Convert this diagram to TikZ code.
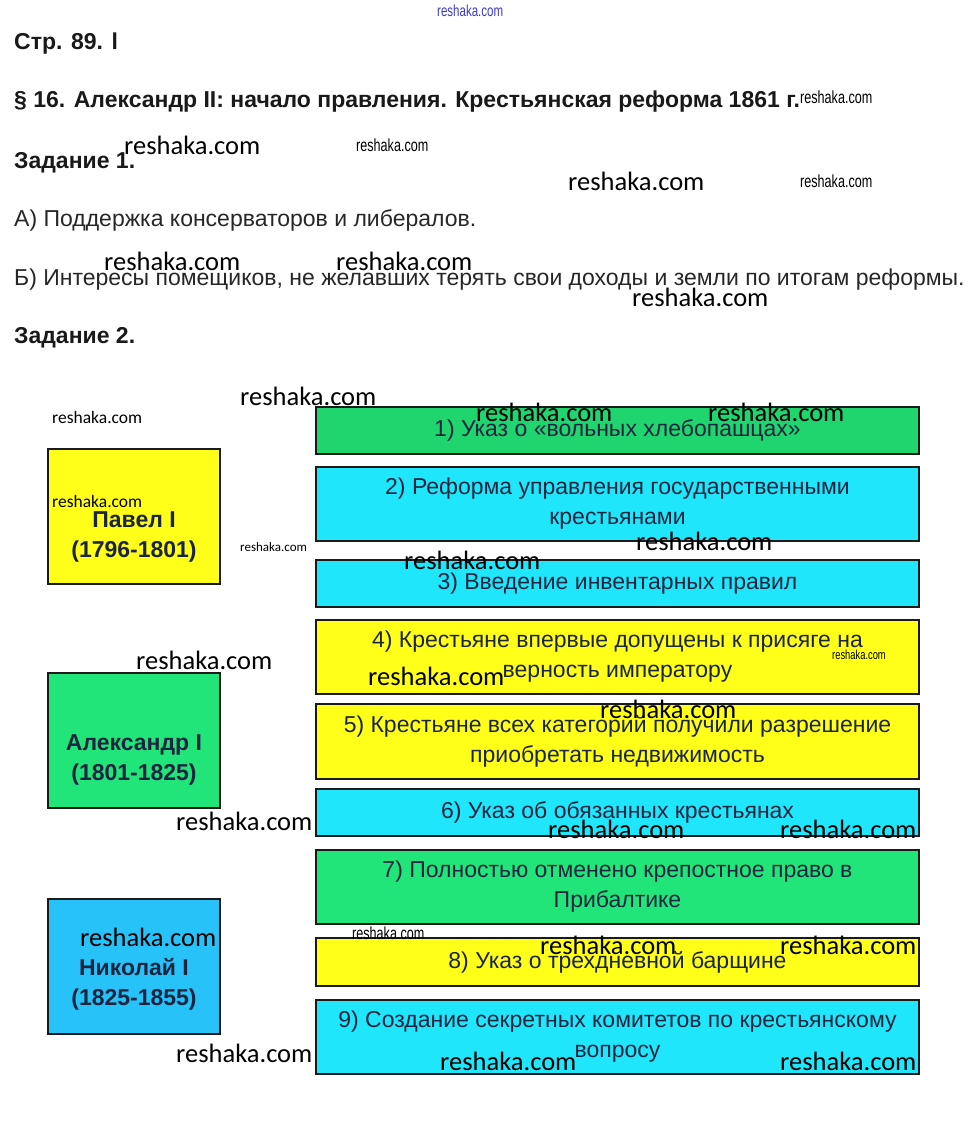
\documentclass[tikz,border=0pt]{standalone}
\usepackage{fontspec}
\setmainfont{Liberation Sans}
\newfontfamily\wmfont{Carlito}
\newfontfamily\wmnarrow{Liberation Sans}[FakeStretch=0.72]
\usetikzlibrary{positioning}
\definecolor{yelfill}{HTML}{FFFF1A}
\definecolor{grnfill}{HTML}{22E57A}
\definecolor{grndark}{HTML}{20D46E}
\definecolor{cyanfill}{HTML}{20E6FC}
\definecolor{bluefill}{HTML}{27C2F8}
\definecolor{boxline}{HTML}{1A1A1A}
\definecolor{boxtext}{HTML}{1C2540}
\definecolor{wmblue}{HTML}{3A3AD0}
\tikzset{
  ruler/.style = {rectangle, draw=boxline, line width=1.6pt,
                  minimum width=172pt, minimum height=135pt, inner sep=0pt},
  rulername/.style = {align=center, text=boxtext, inner sep=0pt,
                  font=\fontsize{23}{30}\selectfont\bfseries},
  evt/.style   = {rectangle, draw=boxline, line width=1.6pt, align=center,
                  text=boxtext, font=\fontsize{23}{30}\selectfont,
                  minimum width=603pt, inner sep=0pt},
  head/.style  = {anchor=base west, inner sep=0pt, text=black!90,
                  font=\fontsize{23}{26}\selectfont\bfseries},
  answer/.style= {anchor=base west, inner sep=0pt, text=black!85,
                  font=\fontsize{23}{26}\selectfont},
  wm/.style    = {anchor=west, inner sep=0pt, font=\wmfont\fontsize{26.5}{27}\selectfont},
  wmmid/.style = {anchor=west, inner sep=0pt, font=\wmfont\fontsize{17.5}{18}\selectfont},
  wmsml/.style = {anchor=west, inner sep=0pt, font=\wmfont\fontsize{13}{13}\selectfont},
  wmnar/.style = {anchor=west, inner sep=0pt, font=\wmnarrow\fontsize{17.5}{18}\selectfont},
}
\begin{document}
\begin{tikzpicture}[x=1pt, y=-1pt]
    \useasboundingbox (0,0) rectangle (967,1142);
    % headings and answers to the first task
    \node[head] (page) at (14,50) {Стр. 89. l};
    \node[head] (para) at (14,108)
        {§ 16. Александр II: начало правления. Крестьянская реформа 1861 г.};
    \node[head] (task1) at (14,168) {Задание 1.};
    \node[answer] (ansA) at (14,226) {А) Поддержка консерваторов и либералов.};
    \node[answer] (ansB) at (14,285)
        {Б) Интересы помещиков, не желавших терять свои доходы и земли по итогам реформы.};
    \node[head] (task2) at (14,343) {Задание 2.};

    % emperors
    \node[ruler, fill=yelfill]  (pavel) at (134,516.5) {};
    \node[ruler, fill=grnfill]  (alex)  at (134,740.5) {};
    \node[ruler, fill=bluefill] (nik)   at (134,966.5) {};
    \node[rulername] (pavelname) at ([yshift=-20pt]pavel.center) {Павел I\\(1796-1801)};
    \node[rulername] (alexname)  at ([yshift=-19pt]alex.center)  {Александр I\\(1801-1825)};
    \node[rulername] (nikname)   at ([yshift=-18pt]nik.center)   {Николай I\\(1825-1855)};

    % events
    \node[evt, fill=grndark,  minimum height=47pt] (e1) at (617.5,430.5)
        {1) Указ о «вольных хлебопашцах»};
    \node[evt, fill=cyanfill, minimum height=74pt] (e2) at (617.5,504)
        {2) Реформа управления государственными\\крестьянами};
    \node[evt, fill=cyanfill, minimum height=47pt] (e3) at (617.5,583.5)
        {3) Введение инвентарных правил};
    \node[evt, fill=yelfill,  minimum height=74pt] (e4) at (617.5,657)
        {4) Крестьяне впервые допущены к присяге на\\верность императору};
    \node[evt, fill=yelfill,  minimum height=75pt] (e5) at (617.5,741.5)
        {5) Крестьяне всех категорий получили разрешение\\приобретать недвижимость};
    \node[evt, fill=cyanfill, minimum height=47pt] (e6) at (617.5,812.5)
        {6) Указ об обязанных крестьянах};
    \node[evt, fill=grnfill,  minimum height=74pt] (e7) at (617.5,887)
        {7) Полностью отменено крепостное право в\\Прибалтике};
    \node[evt, fill=yelfill,  minimum height=48pt] (e8) at (617.5,962)
        {8) Указ о трехдневной барщине};
    \node[evt, fill=cyanfill, minimum height=74pt] (e9) at (617.5,1037)
        {9) Создание секретных комитетов по крестьянскому\\вопросу};

    % watermarks
    \node[wmnar, text=wmblue, font=\wmnarrow\fontsize{16}{16}\selectfont] (w0) at (437,11) {reshaka.com};
    \node[wmnar] (w1) at (800,97)  {reshaka.com};
    \node[wmnar] (w2) at (356,145) {reshaka.com};
    \node[wmnar] (w3) at (800,181) {reshaka.com};
    \node[wm] (w4)  at (124,145) {reshaka.com};
    \node[wm] (w5)  at (568,181) {reshaka.com};
    \node[wm] (w6)  at (104,261) {reshaka.com};
    \node[wm] (w7)  at (336,261) {reshaka.com};
    \node[wm] (w8)  at (632,297) {reshaka.com};
    \node[wmmid] (w9)  at (52,417) {reshaka.com};
    \node[wm] (w10) at (240,396) {reshaka.com};
    \node[wm] (w11) at (476,412) {reshaka.com};
    \node[wm] (w12) at (708,412) {reshaka.com};
    \node[wmmid] (w13) at (52,501) {reshaka.com};
    \node[wmsml] (w14) at (240,547) {reshaka.com};
    \node[wm] (w15) at (636,541) {reshaka.com};
    \node[wm] (w16) at (404,560) {reshaka.com};
    \node[wm] (w17) at (136,660) {reshaka.com};
    \node[wmsml, font=\wmnarrow\fontsize{13}{13}\selectfont] (w18) at (832,655) {reshaka.com};
    \node[wm] (w19) at (368,676) {reshaka.com};
    \node[wm] (w20) at (600,709) {reshaka.com};
    \node[wm] (w21) at (176,821) {reshaka.com};
    \node[wm] (w22) at (548,829) {reshaka.com};
    \node[wm] (w23) at (780,829) {reshaka.com};
    \node[wmnar] (w24) at (352,933) {reshaka.com};
    \node[wm] (w25) at (80,937)  {reshaka.com};
    \node[wm] (w26) at (540,945) {reshaka.com};
    \node[wm] (w27) at (780,945) {reshaka.com};
    \node[wm] (w28) at (176,1053) {reshaka.com};
    \node[wm] (w29) at (440,1061) {reshaka.com};
    \node[wm] (w30) at (780,1061) {reshaka.com};
\end{tikzpicture}
\end{document}
